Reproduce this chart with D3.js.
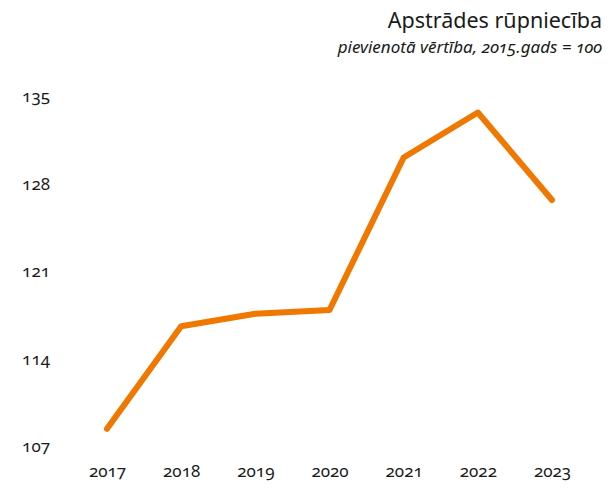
<!DOCTYPE html>
<html lang="lv">
<head>
<meta charset="UTF-8">
<title>Apstrādes rūpniecība</title>
<style>
  body { margin: 0; background: #fff; }
  svg text { font-family: "Noto Sans", "Open Sans", sans-serif; font-variant-numeric: oldstyle-nums; fill: #1a1a1a; }
</style>
</head>
<body>
<script src="https://cdn.jsdelivr.net/npm/d3@7"></script>
<script>
  // dati
  var years = ['2017', '2018', '2019', '2020', '2021', '2022', '2023'];
  var values = [108.7, 116.9, 117.9, 118.2, 130.4, 134.0, 127.0];
  var yTicks = [107, 114, 121, 128, 135];

  var W = 614, H = 488;
  var svg = d3.select('body').append('svg').attr('width', W).attr('height', H);

  var x = d3.scalePoint().domain(years).range([107, 552]);
  var y = d3.scaleLinear().domain([107, 135]).range([450, 100]);

  // virsraksts
  svg.append('text').attr('x', 602).attr('y', 28).attr('text-anchor', 'end')
    .style('font-size', '21.5px').text('Apstrādes rūpniecība');
  svg.append('text').attr('x', 602).attr('y', 53).attr('text-anchor', 'end')
    .style('font-size', '17px').style('font-style', 'italic')
    .text('pievienotā vērtība, 2015.gads = 100');

  // y ass
  var yAxis = svg.append('g').attr('transform', 'translate(50,0)')
    .call(d3.axisLeft(y).tickValues(yTicks).tickSize(0).tickPadding(0));
  yAxis.select('.domain').remove();
  yAxis.selectAll('text').style('font-size', '17px').attr('dy', '0.1em');

  // x ass
  var xAxis = svg.append('g').attr('transform', 'translate(0,468)')
    .call(d3.axisBottom(x).tickSize(0).tickPadding(0));
  xAxis.select('.domain').remove();
  xAxis.selectAll('text').style('font-size', '17px').attr('dy', '0.55em');

  // līnija
  var line = d3.line().x(function (d, i) { return x(years[i]); }).y(function (d) { return y(d); });
  svg.append('path').datum(values).attr('d', line)
    .attr('fill', 'none').attr('stroke', '#F07800').attr('stroke-width', 6)
    .attr('stroke-linecap', 'round').attr('stroke-linejoin', 'round');
</script>
</body>
</html>
